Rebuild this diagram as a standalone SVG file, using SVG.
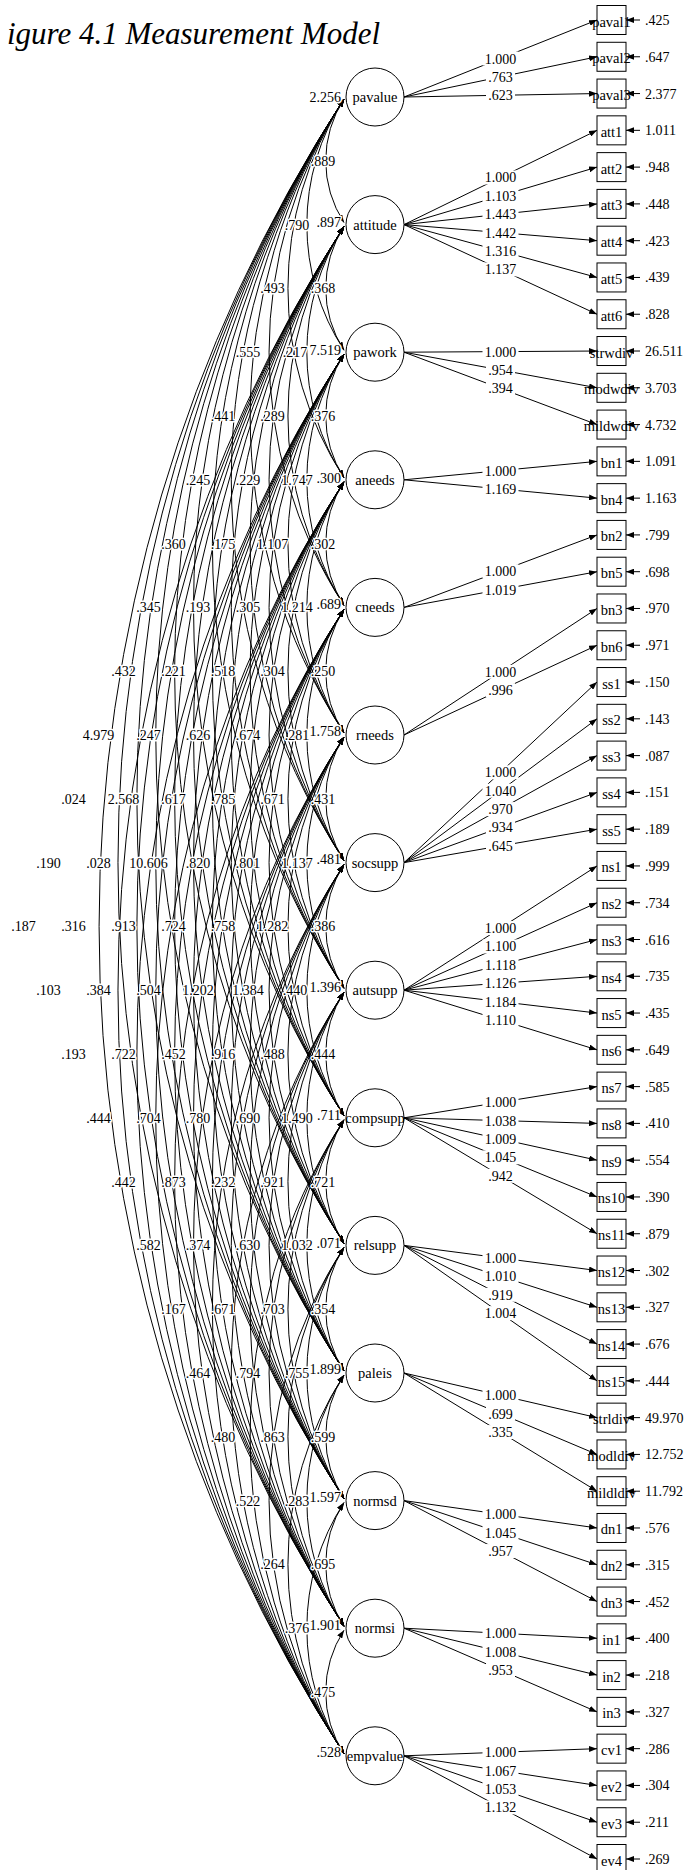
<svg xmlns="http://www.w3.org/2000/svg" width="689" height="1870" viewBox="0 0 689 1870">
<defs>
<style>
text{font-family:"Liberation Serif","Times New Roman",serif;font-size:14px;fill:#000}
.ttl{font-size:31px;font-style:italic;text-anchor:end}
.nm{font-size:14.5px;text-anchor:middle}
.c{text-anchor:middle;paint-order:stroke;stroke:#fff;stroke-width:3px;stroke-linejoin:round}
.v{text-anchor:end;paint-order:stroke;stroke:#fff;stroke-width:3px;stroke-linejoin:round}
.lv{text-anchor:middle}
.arc{fill:none;stroke:#000;stroke-width:1;marker-start:url(#ah);marker-end:url(#ah)}
.ln{fill:none;stroke:#000;stroke-width:1;marker-end:url(#ah)}
.bg{fill:#fff}
circle,.bx{fill:#fff;stroke:#000;stroke-width:1}
</style>
<marker id="ah" viewBox="0 0 8 6" refX="8" refY="3" markerWidth="8" markerHeight="6" markerUnits="userSpaceOnUse" orient="auto-start-reverse"><path d="M0,0L8,3L0,6z" fill="#000"/></marker>
</defs>
<rect width="689" height="1870" fill="#fff"/>
<text class="ttl" x="380" y="44">igure 4.1 Measurement Model</text>

<g id="connectors">
<g id="covariances">
<path class="arc" d="M344,99A113.5,113.5 0 0 0 344,222.6"/>
<path class="arc" d="M344,99A230.8,230.8 0 0 0 344,350.2"/>
<path class="arc" d="M344,99A348,348 0 0 0 344,477.8"/>
<path class="arc" d="M344,99A465.2,465.2 0 0 0 344,605.4"/>
<path class="arc" d="M344,99A582.4,582.4 0 0 0 344,733"/>
<path class="arc" d="M344,99A699.6,699.6 0 0 0 344,860.6"/>
<path class="arc" d="M344,99A816.8,816.8 0 0 0 344,988.2"/>
<path class="arc" d="M344,99A934,934 0 0 0 344,1115.8"/>
<path class="arc" d="M344,99A1051.2,1051.2 0 0 0 344,1243.4"/>
<path class="arc" d="M344,99A1168.5,1168.5 0 0 0 344,1371"/>
<path class="arc" d="M344,99A1285.7,1285.7 0 0 0 344,1498.6"/>
<path class="arc" d="M344,99A1402.9,1402.9 0 0 0 344,1626.2"/>
<path class="arc" d="M344,99A1520.1,1520.1 0 0 0 344,1753.8"/>
<path class="arc" d="M344,226.6A113.5,113.5 0 0 0 344,350.2"/>
<path class="arc" d="M344,226.6A230.8,230.8 0 0 0 344,477.8"/>
<path class="arc" d="M344,226.6A348,348 0 0 0 344,605.4"/>
<path class="arc" d="M344,226.6A465.2,465.2 0 0 0 344,733"/>
<path class="arc" d="M344,226.6A582.4,582.4 0 0 0 344,860.6"/>
<path class="arc" d="M344,226.6A699.6,699.6 0 0 0 344,988.2"/>
<path class="arc" d="M344,226.6A816.8,816.8 0 0 0 344,1115.8"/>
<path class="arc" d="M344,226.6A934,934 0 0 0 344,1243.4"/>
<path class="arc" d="M344,226.6A1051.2,1051.2 0 0 0 344,1371"/>
<path class="arc" d="M344,226.6A1168.5,1168.5 0 0 0 344,1498.6"/>
<path class="arc" d="M344,226.6A1285.7,1285.7 0 0 0 344,1626.2"/>
<path class="arc" d="M344,226.6A1402.9,1402.9 0 0 0 344,1753.8"/>
<path class="arc" d="M344,354.2A113.5,113.5 0 0 0 344,477.8"/>
<path class="arc" d="M344,354.2A230.8,230.8 0 0 0 344,605.4"/>
<path class="arc" d="M344,354.2A348,348 0 0 0 344,733"/>
<path class="arc" d="M344,354.2A465.2,465.2 0 0 0 344,860.6"/>
<path class="arc" d="M344,354.2A582.4,582.4 0 0 0 344,988.2"/>
<path class="arc" d="M344,354.2A699.6,699.6 0 0 0 344,1115.8"/>
<path class="arc" d="M344,354.2A816.8,816.8 0 0 0 344,1243.4"/>
<path class="arc" d="M344,354.2A934,934 0 0 0 344,1371"/>
<path class="arc" d="M344,354.2A1051.2,1051.2 0 0 0 344,1498.6"/>
<path class="arc" d="M344,354.2A1168.5,1168.5 0 0 0 344,1626.2"/>
<path class="arc" d="M344,354.2A1285.7,1285.7 0 0 0 344,1753.8"/>
<path class="arc" d="M344,481.8A113.5,113.5 0 0 0 344,605.4"/>
<path class="arc" d="M344,481.8A230.8,230.8 0 0 0 344,733"/>
<path class="arc" d="M344,481.8A348,348 0 0 0 344,860.6"/>
<path class="arc" d="M344,481.8A465.2,465.2 0 0 0 344,988.2"/>
<path class="arc" d="M344,481.8A582.4,582.4 0 0 0 344,1115.8"/>
<path class="arc" d="M344,481.8A699.6,699.6 0 0 0 344,1243.4"/>
<path class="arc" d="M344,481.8A816.8,816.8 0 0 0 344,1371"/>
<path class="arc" d="M344,481.8A934,934 0 0 0 344,1498.6"/>
<path class="arc" d="M344,481.8A1051.2,1051.2 0 0 0 344,1626.2"/>
<path class="arc" d="M344,481.8A1168.5,1168.5 0 0 0 344,1753.8"/>
<path class="arc" d="M344,609.4A113.5,113.5 0 0 0 344,733"/>
<path class="arc" d="M344,609.4A230.8,230.8 0 0 0 344,860.6"/>
<path class="arc" d="M344,609.4A348,348 0 0 0 344,988.2"/>
<path class="arc" d="M344,609.4A465.2,465.2 0 0 0 344,1115.8"/>
<path class="arc" d="M344,609.4A582.4,582.4 0 0 0 344,1243.4"/>
<path class="arc" d="M344,609.4A699.6,699.6 0 0 0 344,1371"/>
<path class="arc" d="M344,609.4A816.8,816.8 0 0 0 344,1498.6"/>
<path class="arc" d="M344,609.4A934,934 0 0 0 344,1626.2"/>
<path class="arc" d="M344,609.4A1051.2,1051.2 0 0 0 344,1753.8"/>
<path class="arc" d="M344,737A113.5,113.5 0 0 0 344,860.6"/>
<path class="arc" d="M344,737A230.8,230.8 0 0 0 344,988.2"/>
<path class="arc" d="M344,737A348,348 0 0 0 344,1115.8"/>
<path class="arc" d="M344,737A465.2,465.2 0 0 0 344,1243.4"/>
<path class="arc" d="M344,737A582.4,582.4 0 0 0 344,1371"/>
<path class="arc" d="M344,737A699.6,699.6 0 0 0 344,1498.6"/>
<path class="arc" d="M344,737A816.8,816.8 0 0 0 344,1626.2"/>
<path class="arc" d="M344,737A934,934 0 0 0 344,1753.8"/>
<path class="arc" d="M344,864.6A113.5,113.5 0 0 0 344,988.2"/>
<path class="arc" d="M344,864.6A230.8,230.8 0 0 0 344,1115.8"/>
<path class="arc" d="M344,864.6A348,348 0 0 0 344,1243.4"/>
<path class="arc" d="M344,864.6A465.2,465.2 0 0 0 344,1371"/>
<path class="arc" d="M344,864.6A582.4,582.4 0 0 0 344,1498.6"/>
<path class="arc" d="M344,864.6A699.6,699.6 0 0 0 344,1626.2"/>
<path class="arc" d="M344,864.6A816.8,816.8 0 0 0 344,1753.8"/>
<path class="arc" d="M344,992.2A113.5,113.5 0 0 0 344,1115.8"/>
<path class="arc" d="M344,992.2A230.8,230.8 0 0 0 344,1243.4"/>
<path class="arc" d="M344,992.2A348,348 0 0 0 344,1371"/>
<path class="arc" d="M344,992.2A465.2,465.2 0 0 0 344,1498.6"/>
<path class="arc" d="M344,992.2A582.4,582.4 0 0 0 344,1626.2"/>
<path class="arc" d="M344,992.2A699.6,699.6 0 0 0 344,1753.8"/>
<path class="arc" d="M344,1119.8A113.5,113.5 0 0 0 344,1243.4"/>
<path class="arc" d="M344,1119.8A230.8,230.8 0 0 0 344,1371"/>
<path class="arc" d="M344,1119.8A348,348 0 0 0 344,1498.6"/>
<path class="arc" d="M344,1119.8A465.2,465.2 0 0 0 344,1626.2"/>
<path class="arc" d="M344,1119.8A582.4,582.4 0 0 0 344,1753.8"/>
<path class="arc" d="M344,1247.4A113.5,113.5 0 0 0 344,1371"/>
<path class="arc" d="M344,1247.4A230.8,230.8 0 0 0 344,1498.6"/>
<path class="arc" d="M344,1247.4A348,348 0 0 0 344,1626.2"/>
<path class="arc" d="M344,1247.4A465.2,465.2 0 0 0 344,1753.8"/>
<path class="arc" d="M344,1375A113.5,113.5 0 0 0 344,1498.6"/>
<path class="arc" d="M344,1375A230.8,230.8 0 0 0 344,1626.2"/>
<path class="arc" d="M344,1375A348,348 0 0 0 344,1753.8"/>
<path class="arc" d="M344,1502.6A113.5,113.5 0 0 0 344,1626.2"/>
<path class="arc" d="M344,1502.6A230.8,230.8 0 0 0 344,1753.8"/>
<path class="arc" d="M344,1630.2A113.5,113.5 0 0 0 344,1753.8"/>
</g>
<g id="covariance-labels">
<text class="c" x="323" y="165.8">.889</text>
<text class="c" x="297" y="229.6">.790</text>
<text class="c" x="272.5" y="293.4">.493</text>
<text class="c" x="248" y="357.2">.555</text>
<text class="c" x="223" y="421">.441</text>
<text class="c" x="198" y="484.8">.245</text>
<text class="c" x="173.5" y="548.6">.360</text>
<text class="c" x="148.5" y="612.4">.345</text>
<text class="c" x="123.5" y="676.2">.432</text>
<text class="c" x="98.5" y="740">4.979</text>
<text class="c" x="73.5" y="803.8">.024</text>
<text class="c" x="48.5" y="867.6">.190</text>
<text class="c" x="23.5" y="931.4">.187</text>
<text class="c" x="323" y="293.4">.368</text>
<text class="c" x="295" y="357.2">.217</text>
<text class="c" x="272.5" y="421">.289</text>
<text class="c" x="248" y="484.8">.229</text>
<text class="c" x="223" y="548.6">.175</text>
<text class="c" x="198" y="612.4">.193</text>
<text class="c" x="173.5" y="676.2">.221</text>
<text class="c" x="148.5" y="740">.247</text>
<text class="c" x="123.5" y="803.8">2.568</text>
<text class="c" x="98.5" y="867.6">.028</text>
<text class="c" x="73.5" y="931.4">.316</text>
<text class="c" x="48.5" y="995.2">.103</text>
<text class="c" x="323" y="421">.376</text>
<text class="c" x="297" y="484.8">1.747</text>
<text class="c" x="272.5" y="548.6">1.107</text>
<text class="c" x="248" y="612.4">.305</text>
<text class="c" x="223" y="676.2">.518</text>
<text class="c" x="198" y="740">.626</text>
<text class="c" x="173.5" y="803.8">.617</text>
<text class="c" x="148.5" y="867.6">10.606</text>
<text class="c" x="123.5" y="931.4">.913</text>
<text class="c" x="98.5" y="995.2">.384</text>
<text class="c" x="73.5" y="1059">.193</text>
<text class="c" x="323" y="548.6">.302</text>
<text class="c" x="297" y="612.4">1.214</text>
<text class="c" x="272.5" y="676.2">.304</text>
<text class="c" x="248" y="740">.674</text>
<text class="c" x="223" y="803.8">.785</text>
<text class="c" x="198" y="867.6">.820</text>
<text class="c" x="173.5" y="931.4">.724</text>
<text class="c" x="148.5" y="995.2">.504</text>
<text class="c" x="123.5" y="1059">.722</text>
<text class="c" x="98.5" y="1122.8">.444</text>
<text class="c" x="323" y="676.2">.250</text>
<text class="c" x="297" y="740">.281</text>
<text class="c" x="272.5" y="803.8">.671</text>
<text class="c" x="248" y="867.6">.801</text>
<text class="c" x="223" y="931.4">.758</text>
<text class="c" x="198" y="995.2">1.202</text>
<text class="c" x="173.5" y="1059">.452</text>
<text class="c" x="148.5" y="1122.8">.704</text>
<text class="c" x="123.5" y="1186.6">.442</text>
<text class="c" x="323" y="803.8">.431</text>
<text class="c" x="297" y="867.6">1.137</text>
<text class="c" x="272.5" y="931.4">1.282</text>
<text class="c" x="248" y="995.2">1.384</text>
<text class="c" x="223" y="1059">.916</text>
<text class="c" x="198" y="1122.8">.780</text>
<text class="c" x="173.5" y="1186.6">.873</text>
<text class="c" x="148.5" y="1250.4">.582</text>
<text class="c" x="323" y="931.4">.386</text>
<text class="c" x="295" y="995.2">.440</text>
<text class="c" x="272.5" y="1059">.488</text>
<text class="c" x="248" y="1122.8">.690</text>
<text class="c" x="223" y="1186.6">.232</text>
<text class="c" x="198" y="1250.4">.374</text>
<text class="c" x="173.5" y="1314.2">.167</text>
<text class="c" x="323" y="1059">.444</text>
<text class="c" x="297" y="1122.8">1.490</text>
<text class="c" x="272.5" y="1186.6">.921</text>
<text class="c" x="248" y="1250.4">.630</text>
<text class="c" x="223" y="1314.2">.671</text>
<text class="c" x="198" y="1378">.464</text>
<text class="c" x="323" y="1186.6">.721</text>
<text class="c" x="297" y="1250.4">1.032</text>
<text class="c" x="272.5" y="1314.2">.703</text>
<text class="c" x="248" y="1378">.794</text>
<text class="c" x="223" y="1441.8">.480</text>
<text class="c" x="323" y="1314.2">.354</text>
<text class="c" x="297" y="1378">.755</text>
<text class="c" x="272.5" y="1441.8">.863</text>
<text class="c" x="248" y="1505.6">.522</text>
<text class="c" x="323" y="1441.8">.599</text>
<text class="c" x="297" y="1505.6">.283</text>
<text class="c" x="272.5" y="1569.4">.264</text>
<text class="c" x="323" y="1569.4">.695</text>
<text class="c" x="297" y="1633.2">.376</text>
<text class="c" x="323" y="1697">.475</text>
</g>

<g id="loadings">
<path class="ln" d="M404,97L597,20"/>
<path class="ln" d="M404,97L597,56.78"/>
<path class="ln" d="M404,97L597,93.56"/>
<path class="ln" d="M404,224.6L597,130.34"/>
<path class="ln" d="M404,224.6L597,167.12"/>
<path class="ln" d="M404,224.6L597,203.9"/>
<path class="ln" d="M404,224.6L597,240.68"/>
<path class="ln" d="M404,224.6L597,277.46"/>
<path class="ln" d="M404,224.6L597,314.24"/>
<path class="ln" d="M404,352.2L597,351.02"/>
<path class="ln" d="M404,352.2L597,387.8"/>
<path class="ln" d="M404,352.2L597,424.58"/>
<path class="ln" d="M404,479.8L597,461.36"/>
<path class="ln" d="M404,479.8L597,498.14"/>
<path class="ln" d="M404,607.4L597,534.92"/>
<path class="ln" d="M404,607.4L597,571.7"/>
<path class="ln" d="M404,735L597,608.48"/>
<path class="ln" d="M404,735L597,645.26"/>
<path class="ln" d="M404,862.6L597,682.04"/>
<path class="ln" d="M404,862.6L597,718.82"/>
<path class="ln" d="M404,862.6L597,755.6"/>
<path class="ln" d="M404,862.6L597,792.38"/>
<path class="ln" d="M404,862.6L597,829.16"/>
<path class="ln" d="M404,990.2L597,865.94"/>
<path class="ln" d="M404,990.2L597,902.72"/>
<path class="ln" d="M404,990.2L597,939.5"/>
<path class="ln" d="M404,990.2L597,976.28"/>
<path class="ln" d="M404,990.2L597,1013.06"/>
<path class="ln" d="M404,990.2L597,1049.84"/>
<path class="ln" d="M404,1117.8L597,1086.62"/>
<path class="ln" d="M404,1117.8L597,1123.4"/>
<path class="ln" d="M404,1117.8L597,1160.18"/>
<path class="ln" d="M404,1117.8L597,1196.96"/>
<path class="ln" d="M404,1117.8L597,1233.74"/>
<path class="ln" d="M404,1245.4L597,1270.52"/>
<path class="ln" d="M404,1245.4L597,1307.3"/>
<path class="ln" d="M404,1245.4L597,1344.08"/>
<path class="ln" d="M404,1245.4L597,1380.86"/>
<path class="ln" d="M404,1373L597,1417.64"/>
<path class="ln" d="M404,1373L597,1454.42"/>
<path class="ln" d="M404,1373L597,1491.2"/>
<path class="ln" d="M404,1500.6L597,1527.98"/>
<path class="ln" d="M404,1500.6L597,1564.76"/>
<path class="ln" d="M404,1500.6L597,1601.54"/>
<path class="ln" d="M404,1628.2L597,1638.32"/>
<path class="ln" d="M404,1628.2L597,1675.1"/>
<path class="ln" d="M404,1628.2L597,1711.88"/>
<path class="ln" d="M404,1755.8L597,1748.66"/>
<path class="ln" d="M404,1755.8L597,1785.44"/>
<path class="ln" d="M404,1755.8L597,1822.22"/>
<path class="ln" d="M404,1755.8L597,1859"/>
</g>
<g id="loading-labels">
<g transform="translate(500.5,58.5)"><rect class="bg" x="-18" y="-7" width="36" height="14"/><text class="lv" y="5">1.000</text></g>
<g transform="translate(500.5,76.89)"><rect class="bg" x="-14.5" y="-7" width="29" height="14"/><text class="lv" y="5">.763</text></g>
<g transform="translate(500.5,95.28)"><rect class="bg" x="-14.5" y="-7" width="29" height="14"/><text class="lv" y="5">.623</text></g>
<g transform="translate(500.5,177.47)"><rect class="bg" x="-18" y="-7" width="36" height="14"/><text class="lv" y="5">1.000</text></g>
<g transform="translate(500.5,195.86)"><rect class="bg" x="-18" y="-7" width="36" height="14"/><text class="lv" y="5">1.103</text></g>
<g transform="translate(500.5,214.25)"><rect class="bg" x="-18" y="-7" width="36" height="14"/><text class="lv" y="5">1.443</text></g>
<g transform="translate(500.5,232.64)"><rect class="bg" x="-18" y="-7" width="36" height="14"/><text class="lv" y="5">1.442</text></g>
<g transform="translate(500.5,251.03)"><rect class="bg" x="-18" y="-7" width="36" height="14"/><text class="lv" y="5">1.316</text></g>
<g transform="translate(500.5,269.42)"><rect class="bg" x="-18" y="-7" width="36" height="14"/><text class="lv" y="5">1.137</text></g>
<g transform="translate(500.5,351.61)"><rect class="bg" x="-18" y="-7" width="36" height="14"/><text class="lv" y="5">1.000</text></g>
<g transform="translate(500.5,370)"><rect class="bg" x="-14.5" y="-7" width="29" height="14"/><text class="lv" y="5">.954</text></g>
<g transform="translate(500.5,388.39)"><rect class="bg" x="-14.5" y="-7" width="29" height="14"/><text class="lv" y="5">.394</text></g>
<g transform="translate(500.5,470.58)"><rect class="bg" x="-18" y="-7" width="36" height="14"/><text class="lv" y="5">1.000</text></g>
<g transform="translate(500.5,488.97)"><rect class="bg" x="-18" y="-7" width="36" height="14"/><text class="lv" y="5">1.169</text></g>
<g transform="translate(500.5,571.16)"><rect class="bg" x="-18" y="-7" width="36" height="14"/><text class="lv" y="5">1.000</text></g>
<g transform="translate(500.5,589.55)"><rect class="bg" x="-18" y="-7" width="36" height="14"/><text class="lv" y="5">1.019</text></g>
<g transform="translate(500.5,671.74)"><rect class="bg" x="-18" y="-7" width="36" height="14"/><text class="lv" y="5">1.000</text></g>
<g transform="translate(500.5,690.13)"><rect class="bg" x="-14.5" y="-7" width="29" height="14"/><text class="lv" y="5">.996</text></g>
<g transform="translate(500.5,772.32)"><rect class="bg" x="-18" y="-7" width="36" height="14"/><text class="lv" y="5">1.000</text></g>
<g transform="translate(500.5,790.71)"><rect class="bg" x="-18" y="-7" width="36" height="14"/><text class="lv" y="5">1.040</text></g>
<g transform="translate(500.5,809.1)"><rect class="bg" x="-14.5" y="-7" width="29" height="14"/><text class="lv" y="5">.970</text></g>
<g transform="translate(500.5,827.49)"><rect class="bg" x="-14.5" y="-7" width="29" height="14"/><text class="lv" y="5">.934</text></g>
<g transform="translate(500.5,845.88)"><rect class="bg" x="-14.5" y="-7" width="29" height="14"/><text class="lv" y="5">.645</text></g>
<g transform="translate(500.5,928.07)"><rect class="bg" x="-18" y="-7" width="36" height="14"/><text class="lv" y="5">1.000</text></g>
<g transform="translate(500.5,946.46)"><rect class="bg" x="-18" y="-7" width="36" height="14"/><text class="lv" y="5">1.100</text></g>
<g transform="translate(500.5,964.85)"><rect class="bg" x="-18" y="-7" width="36" height="14"/><text class="lv" y="5">1.118</text></g>
<g transform="translate(500.5,983.24)"><rect class="bg" x="-18" y="-7" width="36" height="14"/><text class="lv" y="5">1.126</text></g>
<g transform="translate(500.5,1001.63)"><rect class="bg" x="-18" y="-7" width="36" height="14"/><text class="lv" y="5">1.184</text></g>
<g transform="translate(500.5,1020.02)"><rect class="bg" x="-18" y="-7" width="36" height="14"/><text class="lv" y="5">1.110</text></g>
<g transform="translate(500.5,1102.21)"><rect class="bg" x="-18" y="-7" width="36" height="14"/><text class="lv" y="5">1.000</text></g>
<g transform="translate(500.5,1120.6)"><rect class="bg" x="-18" y="-7" width="36" height="14"/><text class="lv" y="5">1.038</text></g>
<g transform="translate(500.5,1138.99)"><rect class="bg" x="-18" y="-7" width="36" height="14"/><text class="lv" y="5">1.009</text></g>
<g transform="translate(500.5,1157.38)"><rect class="bg" x="-18" y="-7" width="36" height="14"/><text class="lv" y="5">1.045</text></g>
<g transform="translate(500.5,1175.77)"><rect class="bg" x="-14.5" y="-7" width="29" height="14"/><text class="lv" y="5">.942</text></g>
<g transform="translate(500.5,1257.96)"><rect class="bg" x="-18" y="-7" width="36" height="14"/><text class="lv" y="5">1.000</text></g>
<g transform="translate(500.5,1276.35)"><rect class="bg" x="-18" y="-7" width="36" height="14"/><text class="lv" y="5">1.010</text></g>
<g transform="translate(500.5,1294.74)"><rect class="bg" x="-14.5" y="-7" width="29" height="14"/><text class="lv" y="5">.919</text></g>
<g transform="translate(500.5,1313.13)"><rect class="bg" x="-18" y="-7" width="36" height="14"/><text class="lv" y="5">1.004</text></g>
<g transform="translate(500.5,1395.32)"><rect class="bg" x="-18" y="-7" width="36" height="14"/><text class="lv" y="5">1.000</text></g>
<g transform="translate(500.5,1413.71)"><rect class="bg" x="-14.5" y="-7" width="29" height="14"/><text class="lv" y="5">.699</text></g>
<g transform="translate(500.5,1432.1)"><rect class="bg" x="-14.5" y="-7" width="29" height="14"/><text class="lv" y="5">.335</text></g>
<g transform="translate(500.5,1514.29)"><rect class="bg" x="-18" y="-7" width="36" height="14"/><text class="lv" y="5">1.000</text></g>
<g transform="translate(500.5,1532.68)"><rect class="bg" x="-18" y="-7" width="36" height="14"/><text class="lv" y="5">1.045</text></g>
<g transform="translate(500.5,1551.07)"><rect class="bg" x="-14.5" y="-7" width="29" height="14"/><text class="lv" y="5">.957</text></g>
<g transform="translate(500.5,1633.26)"><rect class="bg" x="-18" y="-7" width="36" height="14"/><text class="lv" y="5">1.000</text></g>
<g transform="translate(500.5,1651.65)"><rect class="bg" x="-18" y="-7" width="36" height="14"/><text class="lv" y="5">1.008</text></g>
<g transform="translate(500.5,1670.04)"><rect class="bg" x="-14.5" y="-7" width="29" height="14"/><text class="lv" y="5">.953</text></g>
<g transform="translate(500.5,1752.23)"><rect class="bg" x="-18" y="-7" width="36" height="14"/><text class="lv" y="5">1.000</text></g>
<g transform="translate(500.5,1770.62)"><rect class="bg" x="-18" y="-7" width="36" height="14"/><text class="lv" y="5">1.067</text></g>
<g transform="translate(500.5,1789.01)"><rect class="bg" x="-18" y="-7" width="36" height="14"/><text class="lv" y="5">1.053</text></g>
<g transform="translate(500.5,1807.4)"><rect class="bg" x="-18" y="-7" width="36" height="14"/><text class="lv" y="5">1.132</text></g>
</g>

<g id="errors">
<path class="ln" d="M640,20H626"/>
<path class="ln" d="M640,56.78H626"/>
<path class="ln" d="M640,93.56H626"/>
<path class="ln" d="M640,130.34H626"/>
<path class="ln" d="M640,167.12H626"/>
<path class="ln" d="M640,203.9H626"/>
<path class="ln" d="M640,240.68H626"/>
<path class="ln" d="M640,277.46H626"/>
<path class="ln" d="M640,314.24H626"/>
<path class="ln" d="M640,351.02H626"/>
<path class="ln" d="M640,387.8H626"/>
<path class="ln" d="M640,424.58H626"/>
<path class="ln" d="M640,461.36H626"/>
<path class="ln" d="M640,498.14H626"/>
<path class="ln" d="M640,534.92H626"/>
<path class="ln" d="M640,571.7H626"/>
<path class="ln" d="M640,608.48H626"/>
<path class="ln" d="M640,645.26H626"/>
<path class="ln" d="M640,682.04H626"/>
<path class="ln" d="M640,718.82H626"/>
<path class="ln" d="M640,755.6H626"/>
<path class="ln" d="M640,792.38H626"/>
<path class="ln" d="M640,829.16H626"/>
<path class="ln" d="M640,865.94H626"/>
<path class="ln" d="M640,902.72H626"/>
<path class="ln" d="M640,939.5H626"/>
<path class="ln" d="M640,976.28H626"/>
<path class="ln" d="M640,1013.06H626"/>
<path class="ln" d="M640,1049.84H626"/>
<path class="ln" d="M640,1086.62H626"/>
<path class="ln" d="M640,1123.4H626"/>
<path class="ln" d="M640,1160.18H626"/>
<path class="ln" d="M640,1196.96H626"/>
<path class="ln" d="M640,1233.74H626"/>
<path class="ln" d="M640,1270.52H626"/>
<path class="ln" d="M640,1307.3H626"/>
<path class="ln" d="M640,1344.08H626"/>
<path class="ln" d="M640,1380.86H626"/>
<path class="ln" d="M640,1417.64H626"/>
<path class="ln" d="M640,1454.42H626"/>
<path class="ln" d="M640,1491.2H626"/>
<path class="ln" d="M640,1527.98H626"/>
<path class="ln" d="M640,1564.76H626"/>
<path class="ln" d="M640,1601.54H626"/>
<path class="ln" d="M640,1638.32H626"/>
<path class="ln" d="M640,1675.1H626"/>
<path class="ln" d="M640,1711.88H626"/>
<path class="ln" d="M640,1748.66H626"/>
<path class="ln" d="M640,1785.44H626"/>
<path class="ln" d="M640,1822.22H626"/>
<path class="ln" d="M640,1859H626"/>
</g>
</g>

<g id="latents">
<g id="pavalue" transform="translate(375,97)"><circle r="29"/><text class="nm" y="5">pavalue</text><text class="v" x="-34" y="4.7">2.256</text></g>
<g id="attitude" transform="translate(375,224.6)"><circle r="29"/><text class="nm" y="5">attitude</text><text class="v" x="-34" y="2">.897</text></g>
<g id="pawork" transform="translate(375,352.2)"><circle r="29"/><text class="nm" y="5">pawork</text><text class="v" x="-34" y="2.5">7.519</text></g>
<g id="aneeds" transform="translate(375,479.8)"><circle r="29"/><text class="nm" y="5">aneeds</text><text class="v" x="-34" y="3">.300</text></g>
<g id="cneeds" transform="translate(375,607.4)"><circle r="29"/><text class="nm" y="5">cneeds</text><text class="v" x="-34" y="1.5">.689</text></g>
<g id="rneeds" transform="translate(375,735)"><circle r="29"/><text class="nm" y="5">rneeds</text><text class="v" x="-34" y="0.5">1.758</text></g>
<g id="socsupp" transform="translate(375,862.6)"><circle r="29"/><text class="nm" y="5">socsupp</text><text class="v" x="-34" y="1">.481</text></g>
<g id="autsupp" transform="translate(375,990.2)"><circle r="29"/><text class="nm" y="5">autsupp</text><text class="v" x="-34" y="1.5">1.396</text></g>
<g id="compsupp" transform="translate(375,1117.8)"><circle r="29"/><text class="nm" y="5">compsupp</text><text class="v" x="-34" y="2">.711</text></g>
<g id="relsupp" transform="translate(375,1245.4)"><circle r="29"/><text class="nm" y="5">relsupp</text><text class="v" x="-34" y="3">.071</text></g>
<g id="paleis" transform="translate(375,1373)"><circle r="29"/><text class="nm" y="5">paleis</text><text class="v" x="-34" y="0.5">1.899</text></g>
<g id="normsd" transform="translate(375,1500.6)"><circle r="29"/><text class="nm" y="5">normsd</text><text class="v" x="-34" y="1">1.597</text></g>
<g id="normsi" transform="translate(375,1628.2)"><circle r="29"/><text class="nm" y="5">normsi</text><text class="v" x="-34" y="2">1.901</text></g>
<g id="empvalue" transform="translate(375,1755.8)"><circle r="29"/><text class="nm" y="5">empvalue</text><text class="v" x="-34" y="1">.528</text></g>
</g>

<g id="indicators">
<g id="paval1" transform="translate(597,20)"><rect class="bx" y="-14.5" width="29" height="29"/><text class="nm" x="14.5" y="6.5">paval1</text><text x="48" y="5">.425</text></g>
<g id="paval2" transform="translate(597,56.78)"><rect class="bx" y="-14.5" width="29" height="29"/><text class="nm" x="14.5" y="6.5">paval2</text><text x="48" y="5">.647</text></g>
<g id="paval3" transform="translate(597,93.56)"><rect class="bx" y="-14.5" width="29" height="29"/><text class="nm" x="14.5" y="6.5">paval3</text><text x="48" y="5">2.377</text></g>
<g id="att1" transform="translate(597,130.34)"><rect class="bx" y="-14.5" width="29" height="29"/><text class="nm" x="14.5" y="6.5">att1</text><text x="48" y="5">1.011</text></g>
<g id="att2" transform="translate(597,167.12)"><rect class="bx" y="-14.5" width="29" height="29"/><text class="nm" x="14.5" y="6.5">att2</text><text x="48" y="5">.948</text></g>
<g id="att3" transform="translate(597,203.9)"><rect class="bx" y="-14.5" width="29" height="29"/><text class="nm" x="14.5" y="6.5">att3</text><text x="48" y="5">.448</text></g>
<g id="att4" transform="translate(597,240.68)"><rect class="bx" y="-14.5" width="29" height="29"/><text class="nm" x="14.5" y="6.5">att4</text><text x="48" y="5">.423</text></g>
<g id="att5" transform="translate(597,277.46)"><rect class="bx" y="-14.5" width="29" height="29"/><text class="nm" x="14.5" y="6.5">att5</text><text x="48" y="5">.439</text></g>
<g id="att6" transform="translate(597,314.24)"><rect class="bx" y="-14.5" width="29" height="29"/><text class="nm" x="14.5" y="6.5">att6</text><text x="48" y="5">.828</text></g>
<g id="strwdiv" transform="translate(597,351.02)"><rect class="bx" y="-14.5" width="29" height="29"/><text class="nm" x="14.5" y="6.5">strwdiv</text><text x="48" y="5">26.511</text></g>
<g id="modwdiv" transform="translate(597,387.8)"><rect class="bx" y="-14.5" width="29" height="29"/><text class="nm" x="14.5" y="6.5">modwdiv</text><text x="48" y="5">3.703</text></g>
<g id="mildwdiv" transform="translate(597,424.58)"><rect class="bx" y="-14.5" width="29" height="29"/><text class="nm" x="14.5" y="6.5">mildwdiv</text><text x="48" y="5">4.732</text></g>
<g id="bn1" transform="translate(597,461.36)"><rect class="bx" y="-14.5" width="29" height="29"/><text class="nm" x="14.5" y="6.5">bn1</text><text x="48" y="5">1.091</text></g>
<g id="bn4" transform="translate(597,498.14)"><rect class="bx" y="-14.5" width="29" height="29"/><text class="nm" x="14.5" y="6.5">bn4</text><text x="48" y="5">1.163</text></g>
<g id="bn2" transform="translate(597,534.92)"><rect class="bx" y="-14.5" width="29" height="29"/><text class="nm" x="14.5" y="6.5">bn2</text><text x="48" y="5">.799</text></g>
<g id="bn5" transform="translate(597,571.7)"><rect class="bx" y="-14.5" width="29" height="29"/><text class="nm" x="14.5" y="6.5">bn5</text><text x="48" y="5">.698</text></g>
<g id="bn3" transform="translate(597,608.48)"><rect class="bx" y="-14.5" width="29" height="29"/><text class="nm" x="14.5" y="6.5">bn3</text><text x="48" y="5">.970</text></g>
<g id="bn6" transform="translate(597,645.26)"><rect class="bx" y="-14.5" width="29" height="29"/><text class="nm" x="14.5" y="6.5">bn6</text><text x="48" y="5">.971</text></g>
<g id="ss1" transform="translate(597,682.04)"><rect class="bx" y="-14.5" width="29" height="29"/><text class="nm" x="14.5" y="6.5">ss1</text><text x="48" y="5">.150</text></g>
<g id="ss2" transform="translate(597,718.82)"><rect class="bx" y="-14.5" width="29" height="29"/><text class="nm" x="14.5" y="6.5">ss2</text><text x="48" y="5">.143</text></g>
<g id="ss3" transform="translate(597,755.6)"><rect class="bx" y="-14.5" width="29" height="29"/><text class="nm" x="14.5" y="6.5">ss3</text><text x="48" y="5">.087</text></g>
<g id="ss4" transform="translate(597,792.38)"><rect class="bx" y="-14.5" width="29" height="29"/><text class="nm" x="14.5" y="6.5">ss4</text><text x="48" y="5">.151</text></g>
<g id="ss5" transform="translate(597,829.16)"><rect class="bx" y="-14.5" width="29" height="29"/><text class="nm" x="14.5" y="6.5">ss5</text><text x="48" y="5">.189</text></g>
<g id="ns1" transform="translate(597,865.94)"><rect class="bx" y="-14.5" width="29" height="29"/><text class="nm" x="14.5" y="6.5">ns1</text><text x="48" y="5">.999</text></g>
<g id="ns2" transform="translate(597,902.72)"><rect class="bx" y="-14.5" width="29" height="29"/><text class="nm" x="14.5" y="6.5">ns2</text><text x="48" y="5">.734</text></g>
<g id="ns3" transform="translate(597,939.5)"><rect class="bx" y="-14.5" width="29" height="29"/><text class="nm" x="14.5" y="6.5">ns3</text><text x="48" y="5">.616</text></g>
<g id="ns4" transform="translate(597,976.28)"><rect class="bx" y="-14.5" width="29" height="29"/><text class="nm" x="14.5" y="6.5">ns4</text><text x="48" y="5">.735</text></g>
<g id="ns5" transform="translate(597,1013.06)"><rect class="bx" y="-14.5" width="29" height="29"/><text class="nm" x="14.5" y="6.5">ns5</text><text x="48" y="5">.435</text></g>
<g id="ns6" transform="translate(597,1049.84)"><rect class="bx" y="-14.5" width="29" height="29"/><text class="nm" x="14.5" y="6.5">ns6</text><text x="48" y="5">.649</text></g>
<g id="ns7" transform="translate(597,1086.62)"><rect class="bx" y="-14.5" width="29" height="29"/><text class="nm" x="14.5" y="6.5">ns7</text><text x="48" y="5">.585</text></g>
<g id="ns8" transform="translate(597,1123.4)"><rect class="bx" y="-14.5" width="29" height="29"/><text class="nm" x="14.5" y="6.5">ns8</text><text x="48" y="5">.410</text></g>
<g id="ns9" transform="translate(597,1160.18)"><rect class="bx" y="-14.5" width="29" height="29"/><text class="nm" x="14.5" y="6.5">ns9</text><text x="48" y="5">.554</text></g>
<g id="ns10" transform="translate(597,1196.96)"><rect class="bx" y="-14.5" width="29" height="29"/><text class="nm" x="14.5" y="6.5">ns10</text><text x="48" y="5">.390</text></g>
<g id="ns11" transform="translate(597,1233.74)"><rect class="bx" y="-14.5" width="29" height="29"/><text class="nm" x="14.5" y="6.5">ns11</text><text x="48" y="5">.879</text></g>
<g id="ns12" transform="translate(597,1270.52)"><rect class="bx" y="-14.5" width="29" height="29"/><text class="nm" x="14.5" y="6.5">ns12</text><text x="48" y="5">.302</text></g>
<g id="ns13" transform="translate(597,1307.3)"><rect class="bx" y="-14.5" width="29" height="29"/><text class="nm" x="14.5" y="6.5">ns13</text><text x="48" y="5">.327</text></g>
<g id="ns14" transform="translate(597,1344.08)"><rect class="bx" y="-14.5" width="29" height="29"/><text class="nm" x="14.5" y="6.5">ns14</text><text x="48" y="5">.676</text></g>
<g id="ns15" transform="translate(597,1380.86)"><rect class="bx" y="-14.5" width="29" height="29"/><text class="nm" x="14.5" y="6.5">ns15</text><text x="48" y="5">.444</text></g>
<g id="strldiv" transform="translate(597,1417.64)"><rect class="bx" y="-14.5" width="29" height="29"/><text class="nm" x="14.5" y="6.5">strldiv</text><text x="48" y="5">49.970</text></g>
<g id="modldiv" transform="translate(597,1454.42)"><rect class="bx" y="-14.5" width="29" height="29"/><text class="nm" x="14.5" y="6.5">modldiv</text><text x="48" y="5">12.752</text></g>
<g id="mildldiv" transform="translate(597,1491.2)"><rect class="bx" y="-14.5" width="29" height="29"/><text class="nm" x="14.5" y="6.5">mildldiv</text><text x="48" y="5">11.792</text></g>
<g id="dn1" transform="translate(597,1527.98)"><rect class="bx" y="-14.5" width="29" height="29"/><text class="nm" x="14.5" y="6.5">dn1</text><text x="48" y="5">.576</text></g>
<g id="dn2" transform="translate(597,1564.76)"><rect class="bx" y="-14.5" width="29" height="29"/><text class="nm" x="14.5" y="6.5">dn2</text><text x="48" y="5">.315</text></g>
<g id="dn3" transform="translate(597,1601.54)"><rect class="bx" y="-14.5" width="29" height="29"/><text class="nm" x="14.5" y="6.5">dn3</text><text x="48" y="5">.452</text></g>
<g id="in1" transform="translate(597,1638.32)"><rect class="bx" y="-14.5" width="29" height="29"/><text class="nm" x="14.5" y="6.5">in1</text><text x="48" y="5">.400</text></g>
<g id="in2" transform="translate(597,1675.1)"><rect class="bx" y="-14.5" width="29" height="29"/><text class="nm" x="14.5" y="6.5">in2</text><text x="48" y="5">.218</text></g>
<g id="in3" transform="translate(597,1711.88)"><rect class="bx" y="-14.5" width="29" height="29"/><text class="nm" x="14.5" y="6.5">in3</text><text x="48" y="5">.327</text></g>
<g id="cv1" transform="translate(597,1748.66)"><rect class="bx" y="-14.5" width="29" height="29"/><text class="nm" x="14.5" y="6.5">cv1</text><text x="48" y="5">.286</text></g>
<g id="ev2" transform="translate(597,1785.44)"><rect class="bx" y="-14.5" width="29" height="29"/><text class="nm" x="14.5" y="6.5">ev2</text><text x="48" y="5">.304</text></g>
<g id="ev3" transform="translate(597,1822.22)"><rect class="bx" y="-14.5" width="29" height="29"/><text class="nm" x="14.5" y="6.5">ev3</text><text x="48" y="5">.211</text></g>
<g id="ev4" transform="translate(597,1859)"><rect class="bx" y="-14.5" width="29" height="29"/><text class="nm" x="14.5" y="6.5">ev4</text><text x="48" y="5">.269</text></g>
</g>
</svg>
